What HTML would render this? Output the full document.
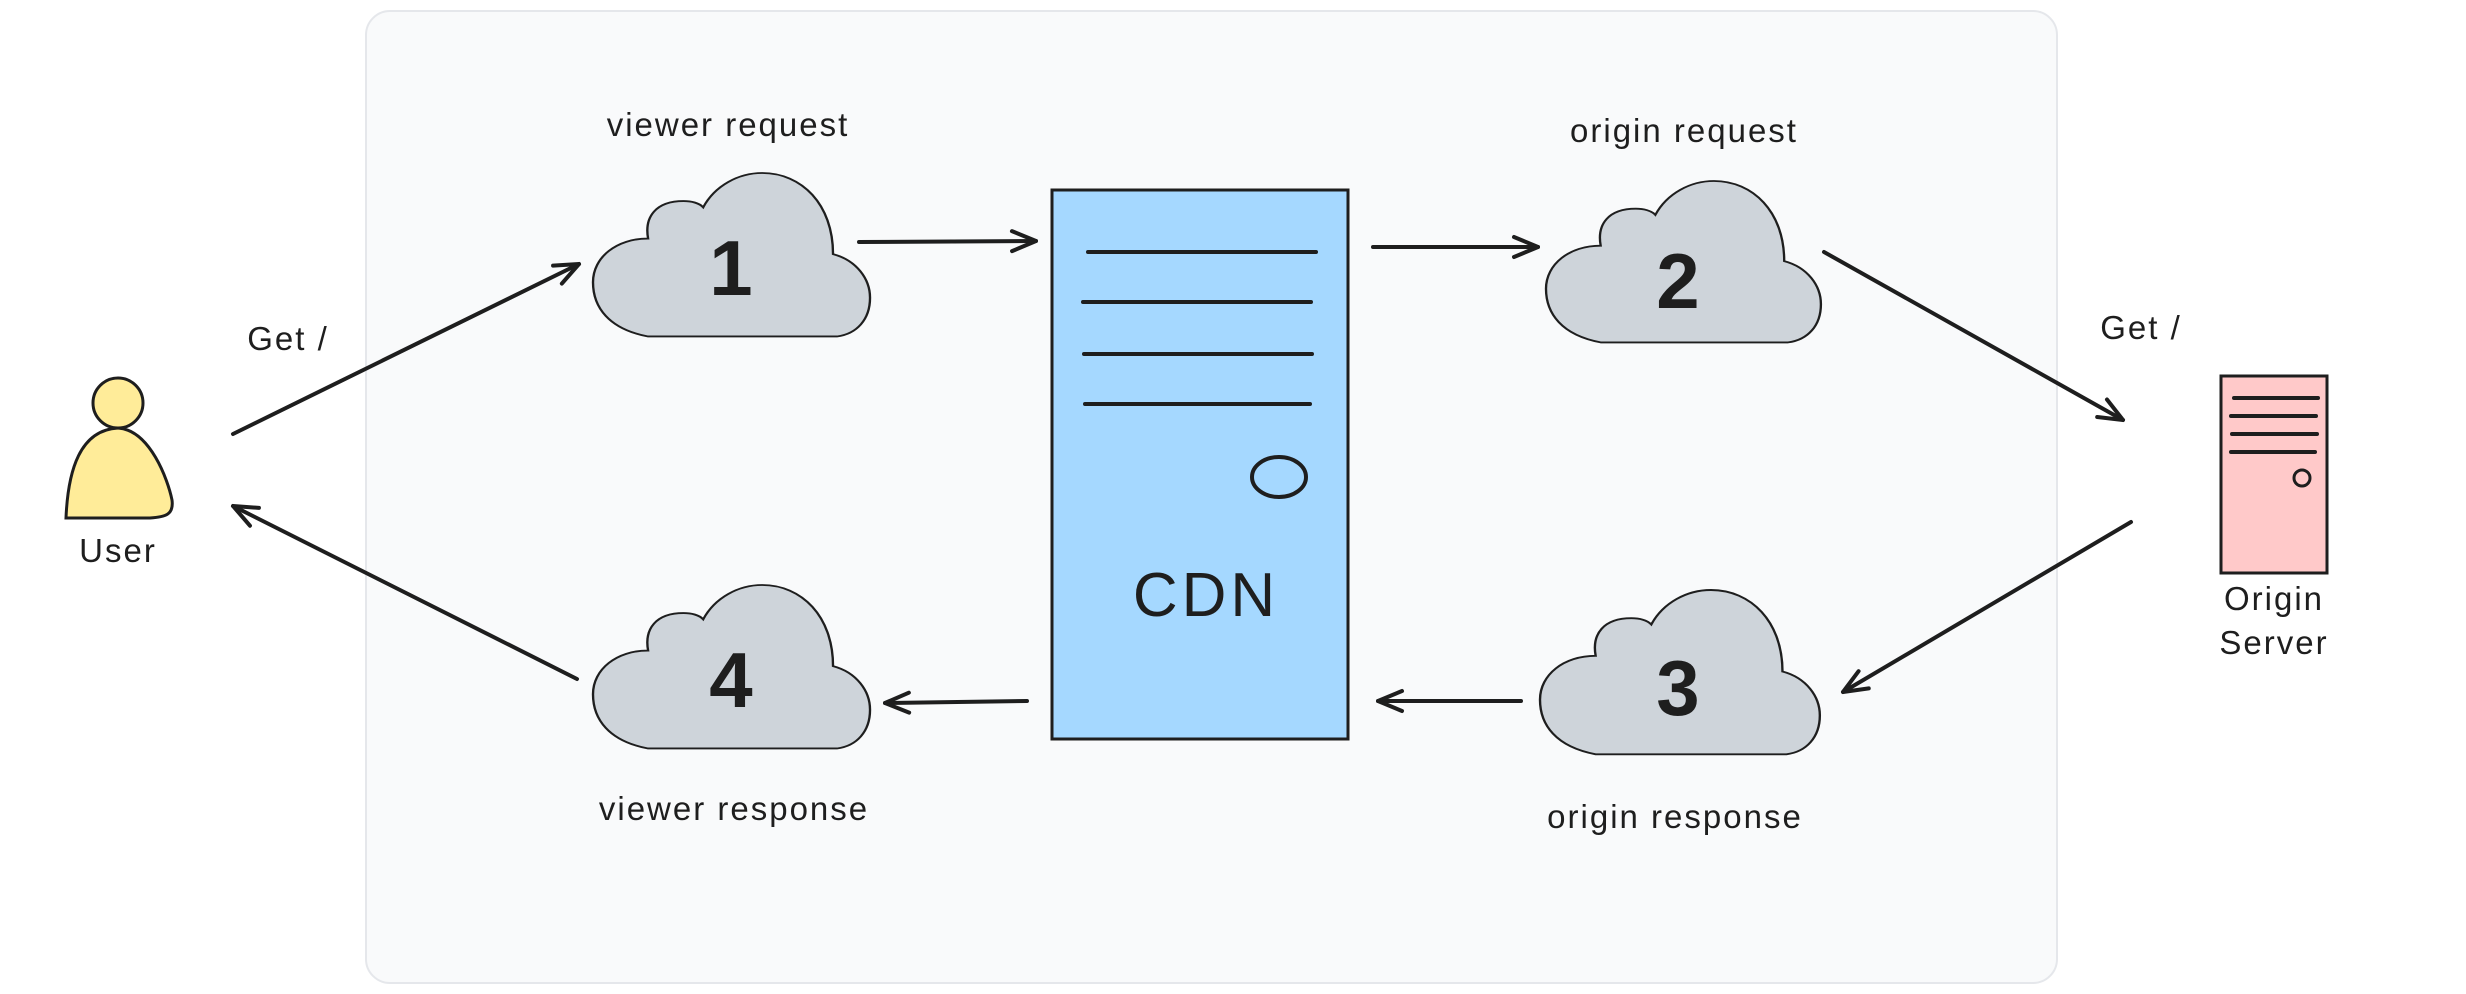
<!DOCTYPE html>
<html><head><meta charset="utf-8"><style>
html,body{margin:0;padding:0;background:#fff;}
svg{display:block;}
text{font-family:"Liberation Sans",sans-serif;fill:#1e1e1e;}
.lbl{font-size:33px;letter-spacing:2px;}
</style></head><body>
<svg width="2466" height="994" viewBox="0 0 2466 994" xmlns="http://www.w3.org/2000/svg">
<defs>
<marker id="ah2" viewBox="0 0 30 30" refX="28" refY="15" markerWidth="30" markerHeight="30" markerUnits="userSpaceOnUse" orient="auto">
<polyline points="4,5 28,15 4,25" fill="none" stroke="#1e1e1e" stroke-width="4" stroke-linecap="round" stroke-linejoin="round"/>
</marker>
<path id="cloud" d="M 70,262 C 20,250 0,215 0,175 C 0,135 30,105 70,105 C 65,70 80,45 115,45 C 125,45 135,48 140,55 C 155,20 185,0 215,0 C 265,0 305,50 305,130 C 335,140 352,170 352,200 C 352,235 335,258 310,262 Z"/>
</defs>
<rect x="366" y="11" width="1691" height="972" rx="24" fill="#f9fafb" stroke="#e5e7eb" stroke-width="2"/>

<!-- User -->
<circle cx="118" cy="403" r="25" fill="#ffec99" stroke="#1e1e1e" stroke-width="3"/>
<path d="M 66,518 C 68,470 80,430 118,428 C 150,430 168,480 172,500 C 174,515 165,517 150,518 Z" fill="#ffec99" stroke="#1e1e1e" stroke-width="3"/>
<text class="lbl" x="118" y="562" text-anchor="middle">User</text>
<text class="lbl" x="288" y="350" text-anchor="middle">Get /</text>

<!-- Clouds -->
<use href="#cloud" transform="translate(593,173) scale(0.787,0.624)" fill="#ced4da" stroke="#1e1e1e" stroke-width="3"/>
<use href="#cloud" transform="translate(1546,181) scale(0.781,0.616)" fill="#ced4da" stroke="#1e1e1e" stroke-width="3"/>
<use href="#cloud" transform="translate(1540,590) scale(0.795,0.627)" fill="#ced4da" stroke="#1e1e1e" stroke-width="3"/>
<use href="#cloud" transform="translate(593,585) scale(0.787,0.624)" fill="#ced4da" stroke="#1e1e1e" stroke-width="3"/>
<text x="731" y="295" font-size="78" font-weight="bold" text-anchor="middle">1</text>
<text x="1678" y="308" font-size="78" font-weight="bold" text-anchor="middle">2</text>
<text x="1678" y="715" font-size="78" font-weight="bold" text-anchor="middle">3</text>
<text x="731" y="707" font-size="78" font-weight="bold" text-anchor="middle">4</text>

<text class="lbl" x="728" y="136" text-anchor="middle">viewer request</text>
<text class="lbl" x="1684" y="142" text-anchor="middle">origin request</text>
<text class="lbl" x="1675" y="828" text-anchor="middle">origin response</text>
<text class="lbl" x="734" y="820" text-anchor="middle">viewer response</text>

<!-- CDN -->
<rect x="1052" y="190" width="296" height="549" fill="#a5d8ff" stroke="#1e1e1e" stroke-width="3"/>
<g stroke="#1e1e1e" stroke-width="4" stroke-linecap="round">
<line x1="1088" y1="252" x2="1316" y2="252"/>
<line x1="1083" y1="302" x2="1311" y2="302"/>
<line x1="1084" y1="354" x2="1312" y2="354"/>
<line x1="1085" y1="404" x2="1310" y2="404"/>
</g>
<ellipse cx="1279" cy="477" rx="27" ry="20" fill="none" stroke="#1e1e1e" stroke-width="4"/>
<text x="1206" y="616" font-size="62" letter-spacing="4" text-anchor="middle">CDN</text>

<!-- Origin server -->
<rect x="2221" y="376" width="106" height="197" fill="#ffc9c9" stroke="#1e1e1e" stroke-width="3"/>
<g stroke="#1e1e1e" stroke-width="4" stroke-linecap="round">
<line x1="2234" y1="398" x2="2318" y2="398"/>
<line x1="2231" y1="416" x2="2316" y2="416"/>
<line x1="2232" y1="434" x2="2317" y2="434"/>
<line x1="2231" y1="452" x2="2315" y2="452"/>
</g>
<circle cx="2302" cy="478" r="8" fill="none" stroke="#1e1e1e" stroke-width="3"/>
<text class="lbl" x="2274" y="610" text-anchor="middle">Origin</text>
<text class="lbl" x="2274" y="654" text-anchor="middle">Server</text>
<text class="lbl" x="2141" y="339" text-anchor="middle">Get /</text>

<!-- Arrows -->
<g stroke="#1e1e1e" stroke-width="4" fill="none" stroke-linecap="round" marker-end="url(#ah2)">
<line x1="233" y1="434" x2="579" y2="264"/>
<line x1="859" y1="242" x2="1036" y2="241"/>
<line x1="1373" y1="247" x2="1538" y2="247"/>
<line x1="1824" y1="252" x2="2123" y2="420"/>
<line x1="2131" y1="522" x2="1843" y2="692"/>
<line x1="1521" y1="701" x2="1378" y2="701"/>
<line x1="1027" y1="701" x2="885" y2="703"/>
<line x1="577" y1="679" x2="233" y2="506"/>
</g>
</svg>
</body></html>
